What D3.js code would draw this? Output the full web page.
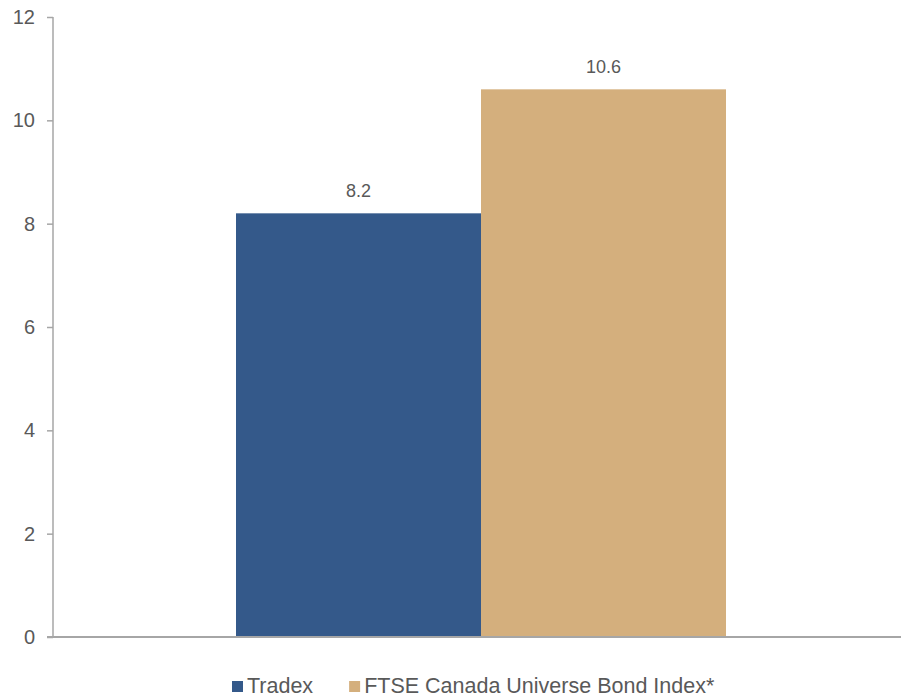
<!DOCTYPE html>
<html>
<head>
<meta charset="utf-8">
<script src="https://cdn.jsdelivr.net/npm/d3@7"></script>
<style>
  html, body { margin: 0; padding: 0; background: #ffffff; }
  svg { display: block; font-family: "Liberation Sans", Arial, sans-serif; }
</style>
</head>
<body>
<svg id="chart" width="901" height="698"></svg>
<script>
// Data
const categories = [""];
const seriesNames = ["Tradex", "FTSE Canada Universe Bond Index*"];
const seriesValues = [8.2, 10.6];
const seriesColors = ["#34598A", "#D4AF7D"];
const yTicks = [0, 2, 4, 6, 8, 10, 12];

const svg = d3.select("#chart");
const textColor = "#595959";
const axisColor = "#A6A6A6";

const plot = { left: 53, right: 909, top: 17, bottom: 637 };

const y = d3.scaleLinear().domain([0, 12]).range([plot.bottom, plot.top]);

const x0 = d3.scaleBand()
  .domain(categories)
  .range([plot.left, plot.right])
  .paddingInner(0)
  .paddingOuter(0.3735);

const x1 = d3.scaleBand()
  .domain(seriesNames)
  .range([0, x0.bandwidth()])
  .padding(0);

const rows = seriesNames.map((name, i) => ({ name, value: seriesValues[i], color: seriesColors[i] }));

// Bars
const group = svg.append("g")
  .selectAll("g")
  .data(categories)
  .join("g")
  .attr("transform", d => `translate(${x0(d)},0)`);

group.selectAll("rect")
  .data(rows)
  .join("rect")
  .attr("x", d => x1(d.name))
  .attr("y", d => y(d.value))
  .attr("width", x1.bandwidth())
  .attr("height", d => y(0) - y(d.value))
  .attr("fill", d => d.color);

// Value labels
group.selectAll("text.value")
  .data(rows)
  .join("text")
  .attr("class", "value")
  .attr("x", d => x1(d.name) + x1.bandwidth() / 2)
  .attr("y", d => y(d.value) - 16)
  .attr("text-anchor", "middle")
  .attr("font-size", 18)
  .attr("fill", textColor)
  .text(d => d.value.toFixed(1));

// Y axis
const yAxis = d3.axisLeft(y)
  .tickValues(yTicks)
  .tickSize(6)
  .tickPadding(12)
  .tickFormat(d3.format("d"));

const gy = svg.append("g")
  .attr("transform", `translate(${plot.left},0)`)
  .call(yAxis);
gy.select(".domain").attr("stroke", axisColor).attr("stroke-width", 1.5)
  .attr("d", `M0,${plot.top}V${plot.bottom}`);
gy.selectAll(".tick line").attr("stroke", axisColor).attr("stroke-width", 1.5);
gy.selectAll(".tick text")
  .attr("font-size", 20)
  .attr("font-family", "Liberation Sans, Arial, sans-serif")
  .attr("fill", textColor);

// X axis baseline
svg.append("line")
  .attr("x1", plot.left - 6)
  .attr("x2", 901)
  .attr("y1", y(0))
  .attr("y2", y(0))
  .attr("stroke", axisColor)
  .attr("stroke-width", 2);

// Legend
const legend = svg.append("g").attr("transform", "translate(0,693)");
const sw = 11, gapText = 4, gapItem = 36;
let cx = 232;
rows.forEach(d => {
  const item = legend.append("g").attr("transform", `translate(${cx},0)`);
  item.append("rect")
    .attr("x", 0).attr("y", -12)
    .attr("width", sw).attr("height", sw)
    .attr("fill", d.color);
  const t = item.append("text")
    .attr("x", sw + gapText)
    .attr("y", 0)
    .attr("font-size", 21.5)
    .attr("fill", textColor)
    .text(d.name);
  cx += sw + gapText + t.node().getComputedTextLength() + gapItem;
});
</script>
</body>
</html>
